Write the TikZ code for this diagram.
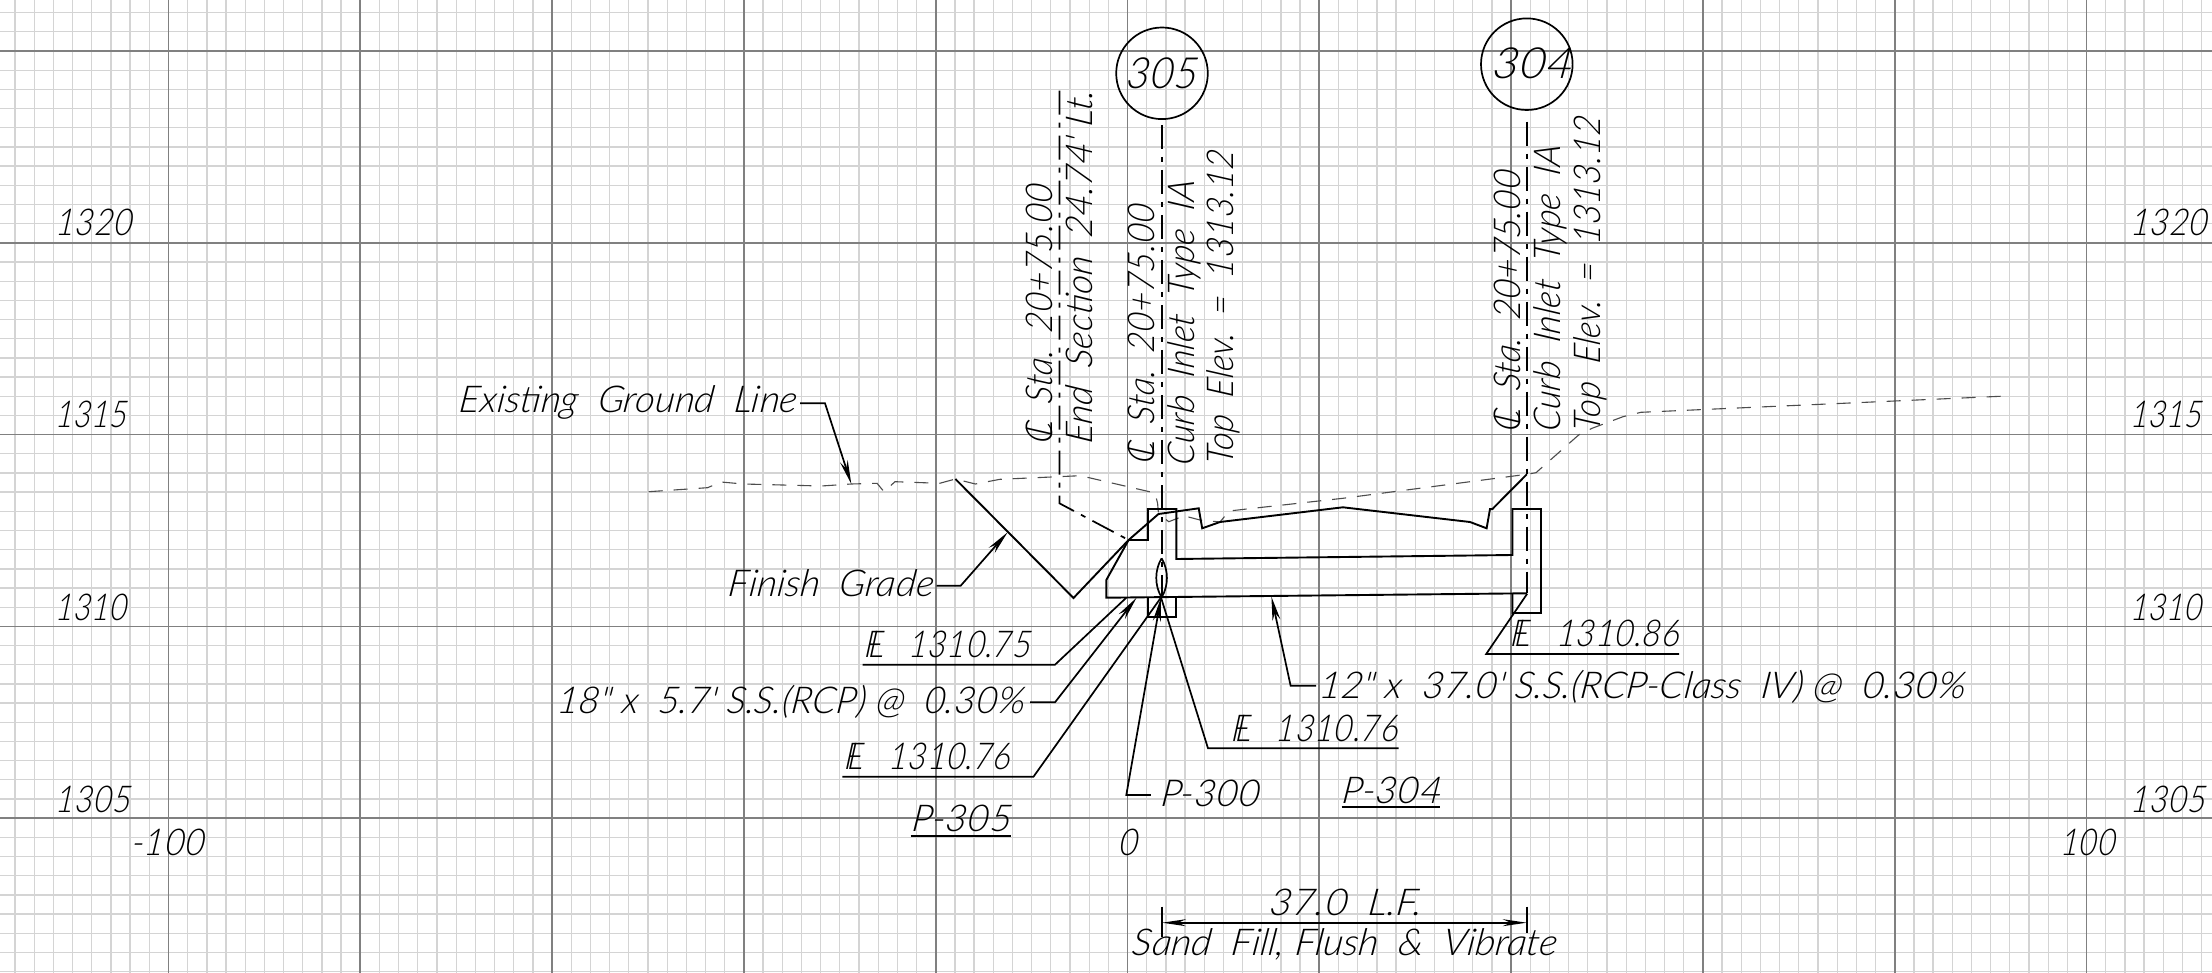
\documentclass[tikz,border=0pt]{standalone}
\usepackage{fontspec}
\usepackage{graphicx}
\setmainfont{Lato Light}[ItalicFont={Lato Light Italic},ItalicFeatures={FakeSlant=0.12}]
\usetikzlibrary{arrows.meta}
\newcommand{\fitw}[2]{\resizebox{#1pt}{\height}{#2}}
\newcommand{\flsym}{\makebox[0pt][l]{F}\kern.12em L}
\newcommand{\clsym}{\makebox[0pt][l]{C}\kern.2em L}
\newcommand{\inch}{\textquotedbl}
\newcommand{\foot}{\textquotesingle}
\tikzset{
  minorgrid/.style={draw=black!17,line width=1.3pt},
  majorgrid/.style={draw=black!50,line width=1.7pt},
  cadtext/.style={inner sep=0pt,anchor=base west,font=\fontsize{37}{40}\selectfont\itshape,text=black},
  bigtext/.style={inner sep=0pt,anchor=base west,font=\fontsize{43}{46}\selectfont\itshape,text=black},
  vertext/.style={cadtext,rotate=90},
  solidline/.style={draw=black,line width=1.9pt,line join=miter},
  leaderline/.style={draw=black,line width=1.7pt},
  arrowline/.style={leaderline,-{Stealth[length=24pt,width=8pt]}},
  centerline/.style={draw=black,line width=1.7pt,dash pattern=on 24pt off 8pt on 5pt off 8pt},
  groundline/.style={draw=black!70,line width=1.1pt,dash pattern=on 14pt off 11pt},
  circlemark/.style={draw=black,line width=1.7pt,circle,minimum size=91.6pt,inner sep=0pt},
}
\begin{document}
\begin{tikzpicture}[x=1pt,y=-1pt]
\useasboundingbox[fill=white] (0,0) rectangle (2212,973);
% grid
\foreach \i in {0,...,115}{\draw[minorgrid] ({15.06+19.18*\i},0) -- ({15.06+19.18*\i},973);}
\foreach \j in {0,...,50}{\draw[minorgrid] (0,{12.64+19.18*\j}) -- (2212,{12.64+19.18*\j});}
\foreach \i in {0,...,10}{\draw[majorgrid] ({168.5+191.8*\i},0) -- ({168.5+191.8*\i},973);}
\foreach \j in {0,...,4}{\draw[majorgrid] (0,{51+191.8*\j}) -- (2212,{51+191.8*\j});}
% axis labels
\node[cadtext] (l1320) at (55,236) {\fitw{78}{1320}};
\node[cadtext] (l1315) at (55,428) {\fitw{73}{1315}};
\node[cadtext] (l1310) at (55,620) {\fitw{73}{1310}};
\node[cadtext] (l1305) at (55,812) {\fitw{76}{1305}};
\node[cadtext] (r1320) at (2130,236) {\fitw{78}{1320}};
\node[cadtext] (r1315) at (2130,428) {\fitw{73}{1315}};
\node[cadtext] (r1310) at (2130,620) {\fitw{73}{1310}};
\node[cadtext] (r1305) at (2130,812) {\fitw{76}{1305}};
\node[cadtext] (xm100) at (131,855) {\fitw{74}{-100}};
\node[cadtext] (x0) at (1118,855) {\fitw{20}{0}};
\node[cadtext] (x100) at (2060,855) {\fitw{56}{100}};
% existing ground
\draw[groundline] (648.7,491.7) -- (707.6,487.7) -- (721,482) -- (743.3,484) -- (821.4,486) -- (851.3,484) -- (877,483.3) -- (884,491.7) -- (895,481.7) -- (939.7,483.3) -- (955.4,479) -- (975.4,484) -- (1000,479.3) -- (1080.4,475.7) -- (1155,493) -- (1157.6,503.3) -- (1158.5,514) -- (1168.8,521.7) -- (1177.7,518.3) -- (1182,515.3) -- (1200,520) -- (1220,522) -- (1229,511) -- (1342.9,498.3) -- (1526.8,474.3) -- (1536,472.7) -- (1578.6,435) -- (1592,428.3) -- (1623,416.7) -- (1641,412.3) -- (2007,396);
% center lines
\draw[centerline] (1162,125) -- (1162,597);
\draw[centerline] (1526.8,121.7) -- (1526.8,593);
\draw[centerline] (1059.4,90.7) -- (1059.4,503.3) -- (1128.6,540);
% finish grade
\draw[solidline] (955.4,479) -- (1073.5,598) -- (1128.6,540) -- (1158.5,514) -- (1198.7,508.3) -- (1202.2,528.3) -- (1220,522) -- (1342.9,507.3) -- (1470,522) -- (1486.6,528.3) -- (1490,509) -- (1492.4,509) -- (1526.8,474.3);
% structure
\draw[solidline] (1128.6,540) -- (1147.8,540) -- (1147.8,509) -- (1176.3,509) -- (1176.3,559) -- (1512.5,555) -- (1512.5,509) -- (1541,509) -- (1541,613) -- (1512.5,613) -- (1512.5,593.7);
\draw[solidline] (1128.6,540) -- (1106.3,580) -- (1106.3,597.7) -- (1526.8,593.3);
\draw[solidline] (1147.8,597.5) -- (1147.8,616.7) -- (1176.3,616.7) -- (1176.3,597.3);
\draw[leaderline] (1161.6,558.3) .. controls (1154.5,570) and (1154.5,586) .. (1161.6,597.3) .. controls (1168.7,586) and (1168.7,570) .. (1161.6,558.3);
% circles
\node[circlemark] (c305) at (1162,73.3) {};
\node[circlemark] (c304) at (1526.8,64.2) {};
\node[bigtext] (t305) at (1125,88.3) {\fitw{72.8}{305}};
\node[bigtext] (t304) at (1491,79) {\fitw{81.8}{304}};
% vertical texts
\node[vertext] (v1) at (1052.7,445) {\fitw{260}{\clsym\ \ Sta.\ \ 20+75.00}};
\node[vertext] (v2) at (1092,445) {\fitw{354}{End\ \ Section\ \ 24.74\foot\ Lt.}};
\node[vertext] (v3) at (1154.5,465) {\fitw{260}{\clsym\ \ Sta.\ \ 20+75.00}};
\node[vertext] (v4) at (1194,466.7) {\fitw{285}{Curb\ \ Inlet\ \ Type\ \ IA}};
\node[vertext] (v5) at (1233.5,466) {\fitw{315}{Top\ \ Elev.\ \ =\ \ 1313.12}};
\node[vertext] (v6) at (1520.5,433) {\fitw{262}{\clsym\ \ Sta.\ \ 20+75.00}};
\node[vertext] (v7) at (1560.3,433) {\fitw{287}{Curb\ \ Inlet\ \ Type\ \ IA}};
\node[vertext] (v8) at (1600.4,433) {\fitw{316}{Top\ \ Elev.\ \ =\ \ 1313.12}};
% labels
\node[cadtext] (egl) at (458.5,413) {\fitw{338}{Existing\ \ Ground\ \ Line}};
\node[cadtext] (fg) at (727.7,596) {\fitw{205}{Finish\ \ Grade}};
\node[cadtext] (fl75) at (864,657.7) {\fitw{167}{\flsym\ \ \ 1310.75}};
\node[cadtext] (rcp18) at (555.8,713.3) {\fitw{468.7}{18\inch\ x\ \ 5.7\foot\ S.S.(RCP)\ @\ \ 0.30\%}};
\node[cadtext] (fl76l) at (843.8,769) {\fitw{166.2}{\flsym\ \ \ 1310.76}};
\node[cadtext] (p305) at (911.6,831) {\fitw{99.4}{P-305}};
\node[cadtext] (p300) at (1159.8,806.7) {\fitw{100}{P-300}};
\node[cadtext] (p304) at (1341.5,803.3) {\fitw{99.5}{P-304}};
\node[cadtext] (fl76r) at (1231,741.7) {\fitw{166.8}{\flsym\ \ \ 1310.76}};
\node[cadtext] (rcp12) at (1318,698.3) {\fitw{646.7}{12\inch\ x\ \ 37.0\foot\ S.S.(RCP-Class\ \ IV)\ @\ \ 0.30\%}};
\node[cadtext] (fl86) at (1510.7,646.7) {\fitw{168.3}{\flsym\ \ \ 1310.86}};
\node[cadtext] (lf) at (1268,915.7) {\fitw{153.7}{37.0\ \ L.F.}};
\node[cadtext] (sand) at (1131.7,955) {\fitw{425}{Sand\ \ Fill, Flush\ \ \&\ \ Vibrate}};
% leader targets
\coordinate (egltip) at (851.3,484);
\coordinate (fgtip) at (1007.6,532.3);
\coordinate (fl75end) at (1126.3,597.7);
\coordinate (rcp18tip) at (1136.6,597.7);
\coordinate (pipejoint) at (1161,597.5);
\coordinate (rcp12tip) at (1271.4,596.7);
\coordinate (fl86end) at (1527.2,593.7);
\coordinate (dimleft) at (1162,922.7);
\coordinate (dimright) at (1526.7,922.7);
% leaders
\draw[arrowline] (800,403.3) -- (825,403.3) -- (egltip);
\draw[arrowline] (936.6,585.7) -- (960.7,585.7) -- (fgtip);
\draw[leaderline] (862.5,664.7) -- (1055,664.7) -- (fl75end);
\draw[arrowline] (1030,702.3) -- (1055,702.3) -- (rcp18tip);
\draw[leaderline] (842.4,776.7) -- (1033.5,776.7) -- (pipejoint);
\draw[arrowline] (1150.9,795) -- (1126.3,795) -- (pipejoint);
\draw[leaderline] (1398.7,748.3) -- (1208,748.3) -- (pipejoint);
\draw[arrowline] (1316,685.7) -- (1290.6,685.7) -- (rcp12tip);
\draw[leaderline] (1679,654) -- (1486.2,654) -- (fl86end);
\draw[leaderline] (910.7,835.7) -- (1011,835.7);
\draw[leaderline] (1341.5,806.7) -- (1440,806.7);
% dimension
\draw[leaderline,{Stealth[length=24pt,width=7pt]}-{Stealth[length=24pt,width=7pt]}] (dimleft) -- (dimright);
\draw[leaderline] (1162,906.7) -- (1162,936.7);
\draw[leaderline] (1526.7,906.7) -- (1526.7,933);
\end{tikzpicture}
\end{document}
